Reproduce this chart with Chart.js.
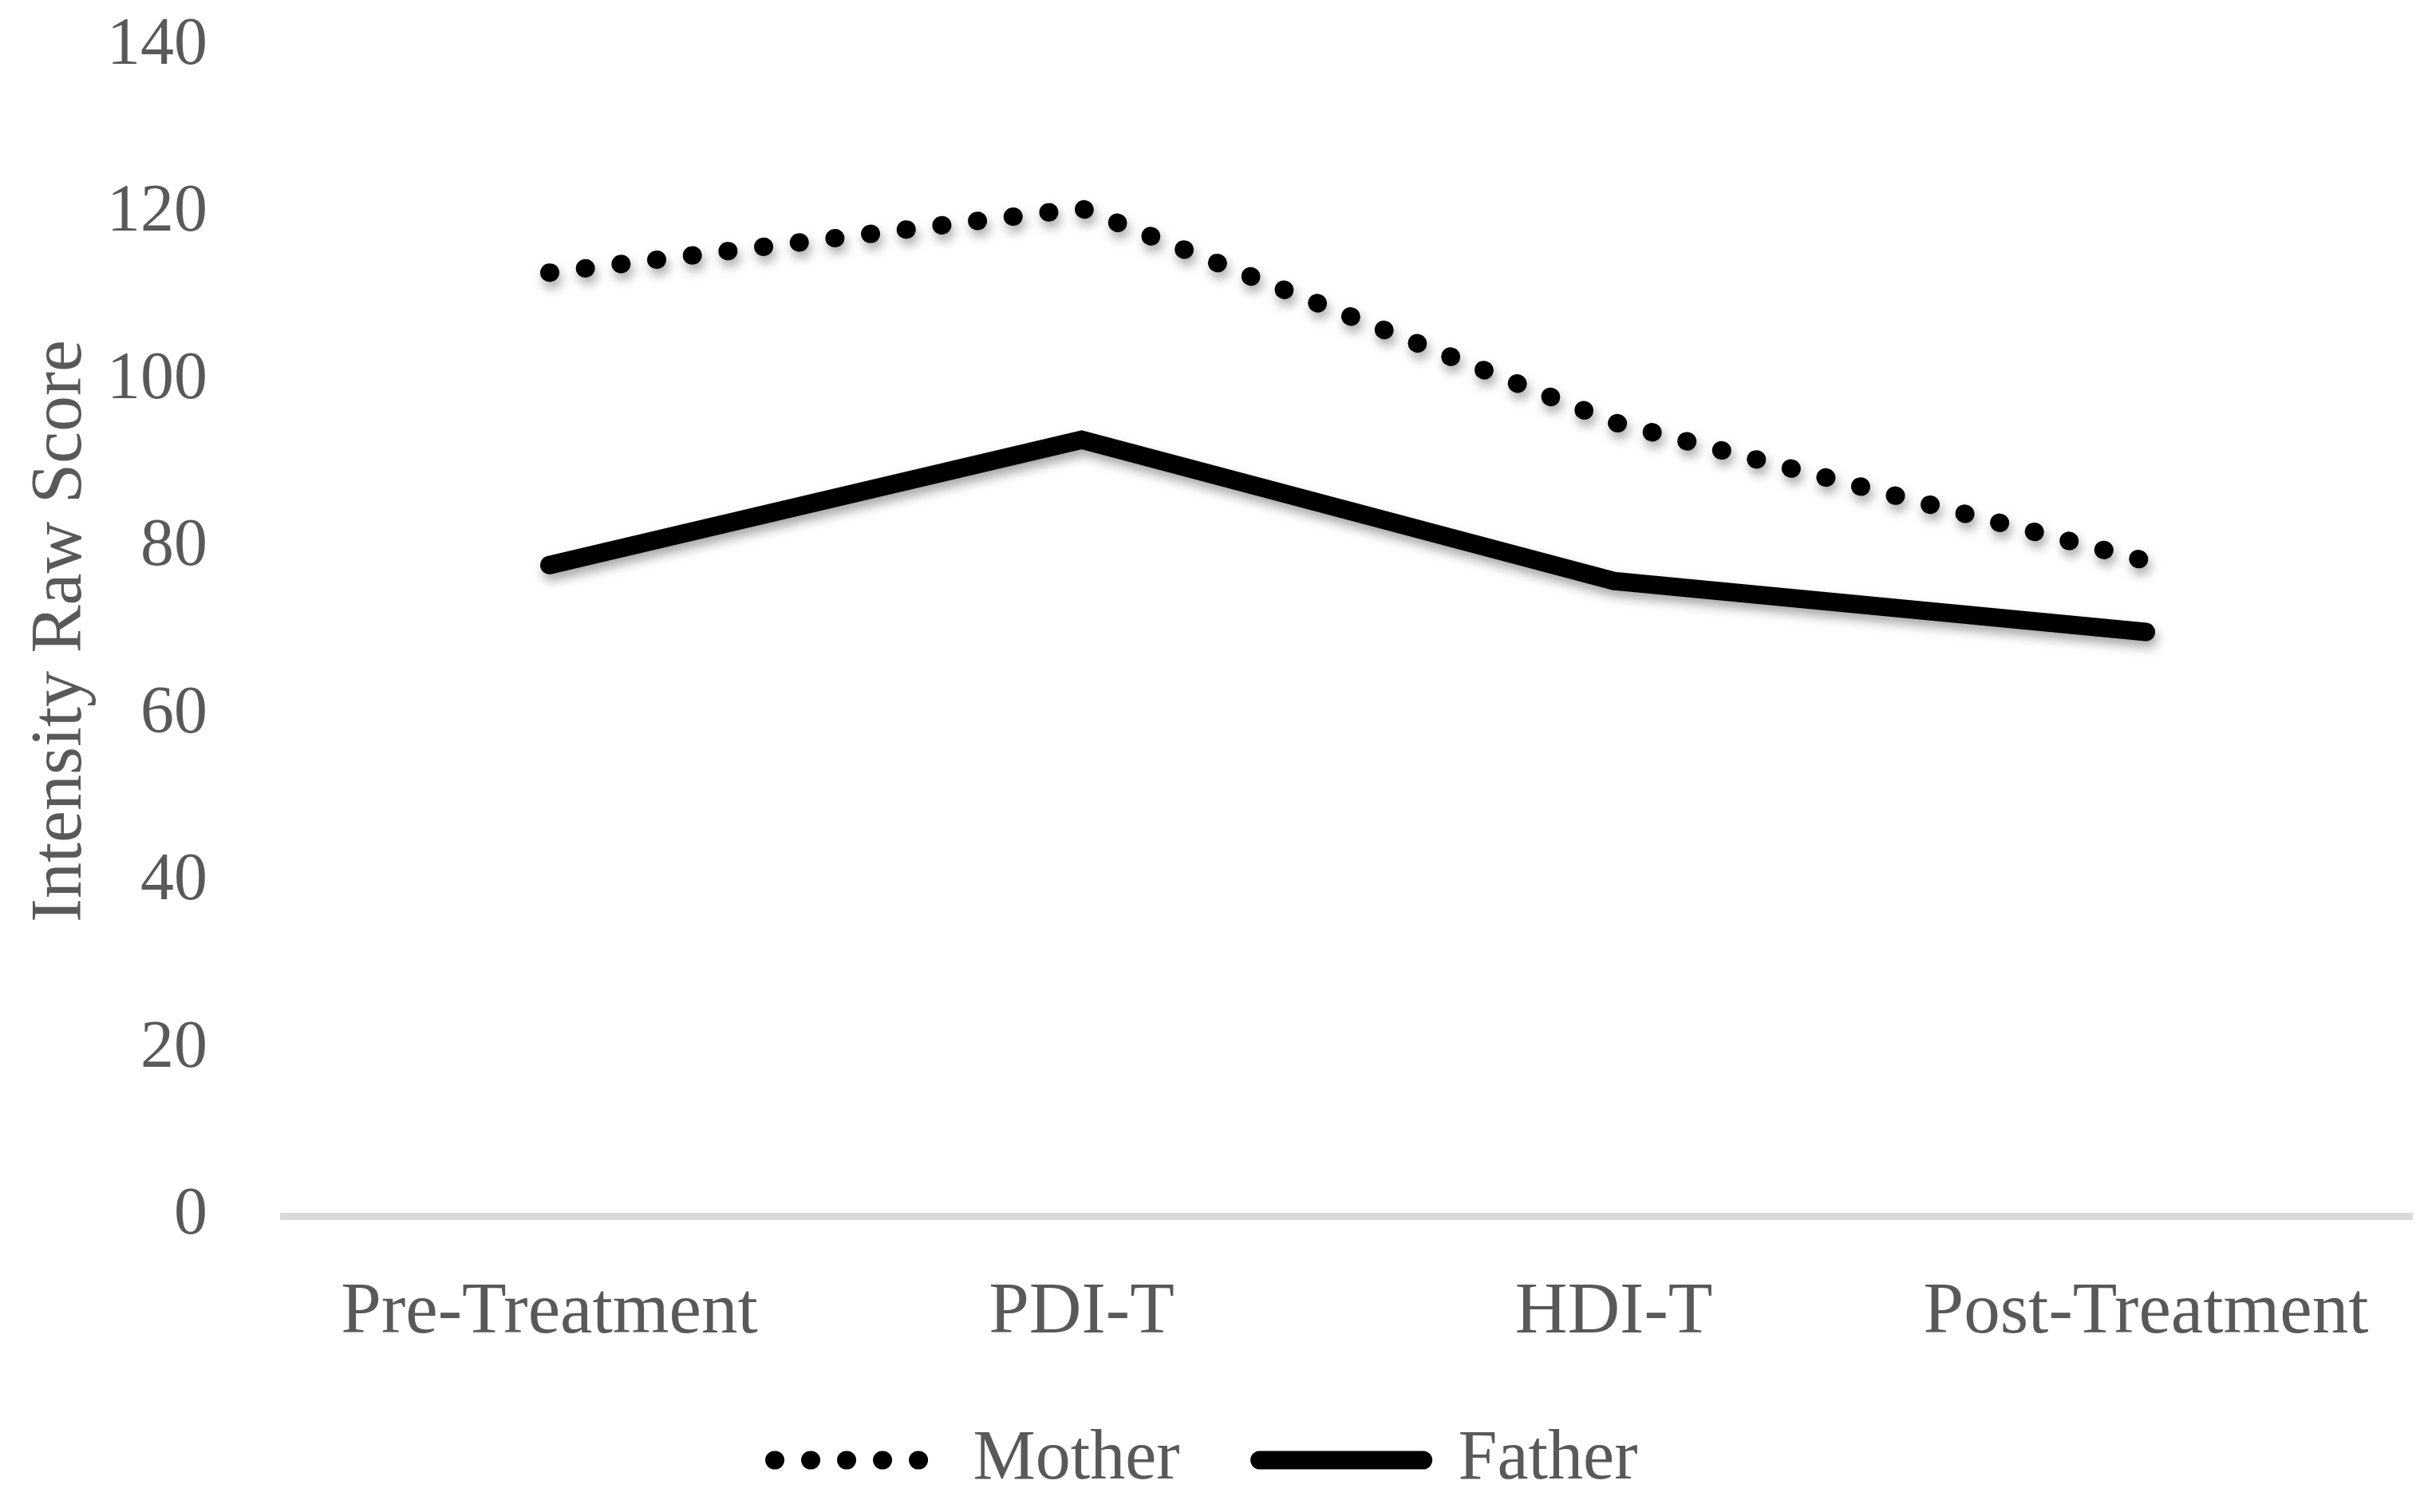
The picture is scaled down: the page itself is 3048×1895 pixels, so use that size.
<!DOCTYPE html>
<html lang="en">
<head>
    <meta charset="UTF-8">
    <title>Intensity Raw Score</title>
    <script src="https://cdn.jsdelivr.net/npm/chart.js"></script>
    <style>
        html, body {
            margin: 0;
            padding: 0;
            background: #ffffff;
        }
        .chart-box {
            position: relative;
            width: 3048px;
            height: 1895px;
        }
    </style>
</head>
<body>
    <div class="chart-box">
        <canvas id="scoreChart"></canvas>
    </div>

    <script>
        // Data
        const phases = ['Pre-Treatment', 'PDI-T', 'HDI-T', 'Post-Treatment'];
        const motherScores = [112.9, 120.6, 95.0, 78.4];
        const fatherScores = [77.9, 92.9, 76.0, 69.9];
        const yTicks = [0, 20, 40, 60, 80, 100, 120, 140];

        const textGray = '#595959';
        const serif = "'Liberation Serif', 'DejaVu Serif', serif";
        const lineWidth = 23;

        // soft drop shadow under the two lines only
        const lineShadow = {
            id: 'lineShadow',
            beforeDatasetsDraw(chart) {
                const ctx = chart.ctx;
                ctx.save();
                ctx.shadowColor = 'rgba(0, 0, 0, 0.35)';
                ctx.shadowBlur = 14;
                ctx.shadowOffsetX = 3;
                ctx.shadowOffsetY = 8;
            },
            afterDatasetsDraw(chart) {
                chart.ctx.restore();
            }
        };

        // legend samples should look like the lines (dots for Mother, solid for Father)
        function legendLabels(chart) {
            const items = Chart.defaults.plugins.legend.labels.generateLabels(chart);
            return items.map(item => {
                const ds = chart.data.datasets[item.datasetIndex];
                item.lineDash = ds.borderDash || [];
                item.lineCap = 'round';
                item.lineWidth = lineWidth;
                item.strokeStyle = '#000000';
                item.fillStyle = '#000000';
                return item;
            });
        }

        const ctx = document.getElementById('scoreChart').getContext('2d');
        new Chart(ctx, {
            type: 'line',
            data: {
                labels: phases,
                datasets: [
                    {
                        label: 'Mother',
                        data: motherScores,
                        borderColor: '#000000',
                        backgroundColor: '#000000',
                        borderWidth: lineWidth,
                        borderDash: [1, 44],
                        borderCapStyle: 'round',
                        pointRadius: 0,
                        pointHoverRadius: 0,
                        tension: 0
                    },
                    {
                        label: 'Father',
                        data: fatherScores,
                        borderColor: '#000000',
                        backgroundColor: '#000000',
                        borderWidth: lineWidth,
                        borderCapStyle: 'round',
                        pointRadius: 0,
                        pointHoverRadius: 0,
                        tension: 0
                    }
                ]
            },
            options: {
                responsive: true,
                maintainAspectRatio: false,
                animation: false,
                events: [],
                layout: {
                    padding: { top: 58, right: 25, bottom: 11, left: 0 }
                },
                plugins: {
                    tooltip: { enabled: false },
                    legend: {
                        position: 'bottom',
                        labels: {
                            usePointStyle: true,
                            pointStyle: 'line',
                            pointStyleWidth: 205,
                            padding: 100,
                            color: textGray,
                            font: { family: serif, size: 88 },
                            generateLabels: legendLabels
                        }
                    }
                },
                scales: {
                    x: {
                        offset: true,
                        grid: { display: false },
                        border: { display: true, color: '#d9d9d9', width: 9 },
                        ticks: {
                            color: textGray,
                            padding: 59,
                            maxRotation: 0,
                            font: { family: serif, size: 91 }
                        },
                        afterFit(scale) {
                            scale.height = 162;
                        }
                    },
                    y: {
                        min: 0,
                        max: 140,
                        afterBuildTicks(scale) {
                            scale.ticks = yTicks.map(v => ({ value: v }));
                        },
                        grid: { display: false },
                        border: { display: false },
                        ticks: {
                            color: textGray,
                            padding: 87,
                            font: { family: serif, size: 84 }
                        },
                        title: {
                            display: true,
                            text: 'Intensity Raw Score',
                            color: textGray,
                            padding: { top: 23, bottom: 0 },
                            font: { family: serif, size: 90 }
                        },
                        afterFit(scale) {
                            scale.width = 355;
                            scale.paddingTop = 0;
                            scale.paddingBottom = 0;
                        }
                    }
                }
            },
            plugins: [lineShadow]
        });
    </script>
</body>
</html>
